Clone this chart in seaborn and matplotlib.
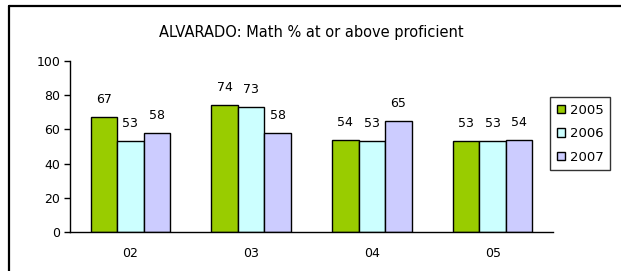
import numpy as np
import pandas as pd
import matplotlib
matplotlib.use("Agg")
import matplotlib.pyplot as plt
import seaborn as sns
from matplotlib.lines import Line2D

# data
grades = ["02", "03", "04", "05"]
years = ["2005", "2006", "2007"]
pct_2005 = [67, 74, 54, 53]
pct_2006 = [53, 73, 53, 53]
pct_2007 = [58, 58, 65, 54]
colors = ["#99CC00", "#CCFFFF", "#CCCCFF"]

df = pd.DataFrame({
    "grade": grades * 3,
    "year": [years[0]] * 4 + [years[1]] * 4 + [years[2]] * 4,
    "pct": pct_2005 + pct_2006 + pct_2007,
})

sns.set_theme(style="white")
plt.rcParams["font.family"] = ["DejaVu Sans"]
plt.rcParams["text.color"] = "black"
plt.rcParams["xtick.color"] = "black"
plt.rcParams["ytick.color"] = "black"

fig = plt.figure(figsize=(6.21, 2.71), dpi=100)
ax = fig.add_axes([70 / 621, 39 / 271, 483 / 621, 171 / 271])

sns.barplot(data=df, x="grade", y="pct", hue="year", palette=colors,
            width=0.66, edgecolor="black", linewidth=1, saturation=1,
            ax=ax, legend=False)

for cont in ax.containers:
    ax.bar_label(cont, padding=8, fontsize=9, color="black")

ax.set_ylim(0, 100)
ax.set_xlim(-0.5, 3.5)
ax.set_yticks([0, 20, 40, 60, 80, 100])
ax.set_xlabel("")
ax.set_ylabel("")
ax.set_title("ALVARADO: Math % at or above proficient", fontsize=10.5,
             pad=17, color="black")

for side in ["top", "right"]:
    ax.spines[side].set_visible(False)
for side in ["left", "bottom"]:
    ax.spines[side].set_color("black")
    ax.spines[side].set_linewidth(1)

ax.set_xticks(np.arange(-0.5, 4, 1), minor=True)
ax.tick_params(axis="x", which="major", length=0, labelsize=9, pad=11)
ax.tick_params(axis="x", which="minor", length=4, width=1, color="black", direction="out")
ax.tick_params(axis="y", length=4, width=1, color="black", direction="out",
               left=True, labelsize=9, pad=3)

handles = [plt.Rectangle((0, 0), 1, 1, facecolor=c, edgecolor="black", linewidth=1)
           for c in colors]
leg = fig.legend(handles, years, loc="upper left",
                 bbox_to_anchor=(550 / 621, 1 - 97 / 271),
                 fontsize=9.5, frameon=True, fancybox=False,
                 handlelength=0.6, handleheight=0.6, handletextpad=0.4,
                 labelspacing=0.8, borderpad=0.5, borderaxespad=0)
leg.get_frame().set_edgecolor("black")
leg.get_frame().set_linewidth(1)

# outer chart border (left and top visible)
fig.add_artist(Line2D([9 / 621, 9 / 621], [0, 1 - 6 / 271], color="black",
                      lw=1.6, transform=fig.transFigure))
fig.add_artist(Line2D([9 / 621, 1.0], [1 - 6 / 271, 1 - 6 / 271], color="black",
                      lw=1.6, transform=fig.transFigure))

fig.savefig("out.png", dpi=100)
